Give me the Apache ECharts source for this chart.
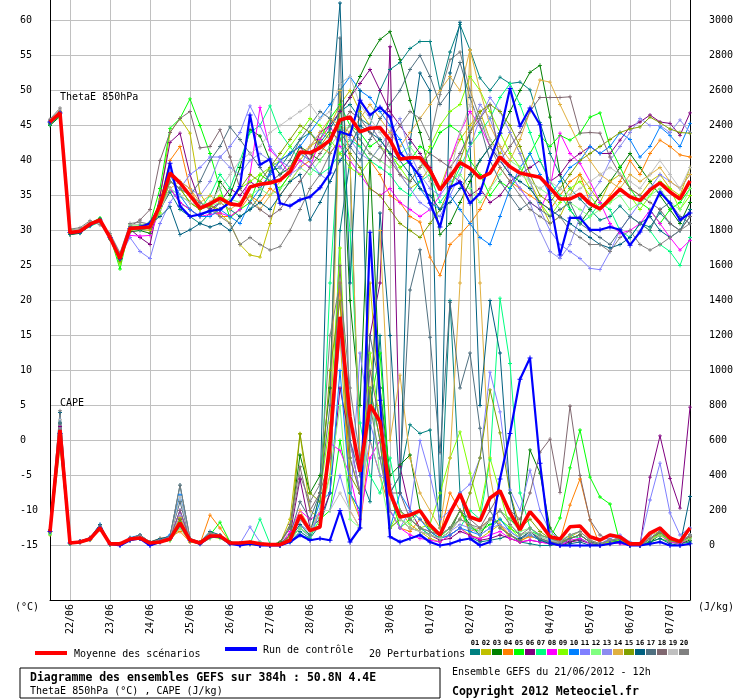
<!DOCTYPE html>
<html><head><meta charset="utf-8">
<script src="https://cdn.jsdelivr.net/npm/echarts@6/dist/echarts.min.js"></script>
<style>html,body{margin:0;padding:0;background:#fff}#c{width:740px;height:700px}</style>
</head><body><div id="c"></div>
<script>
// ---------- tick labels ----------
const dates = ['22/06','23/06','24/06','25/06','26/06','27/06','28/06','29/06','30/06','01/07','02/07','03/07','04/07','05/07','06/07','07/07'];
const thetaTicks = [-15,-10,-5,0,5,10,15,20,25,30,35,40,45,50,55,60];
const capeTicks = [0,200,400,600,800,1000,1200,1400,1600,1800,2000,2200,2400,2600,2800,3000];
const memberColors = ['#008080','#c0c000','#008000','#ff8000','#00ff00','#800080','#00ff80','#ff00ff','#80ff00','#0080ff','#8080ff','#80ff80','#8c8cf0','#e0b040','#80a000','#006080','#507080','#806870','#c0c0c0','#808080'];

// ---------- ThetaE 850 hPa (°C), 6-hourly from 21/06 12h ----------
const thetaMean = [45.5,46.8,29.7,29.9,30.9, 31.5,29.0,26.0,30.3,30.4, 30.5,33.6,38.2,36.8,35.0, 33.2,33.8,34.6,33.8,33.6, 36.2,36.6,36.8,37.2,38.4, 41.2,41.1,41.8,42.9,45.8, 46.2,44.1,44.6,44.7,42.9, 40.2,40.4,40.4,38.6,35.8, 37.7,39.7,38.9,37.5,38.2, 40.5,39.1,38.2,37.9,37.6, 36.1,34.5,34.5,35.2,33.8, 33.1,34.5,35.9,34.8,34.3, 35.8,36.8,35.5,34.5,37.1];
const thetaCtrl = [45.5,46.8,29.7,29.8,30.8, 31.5,29.0,26.0,30.3,30.5, 31.0,33.5,39.6,33.5,32.0, 32.3,32.8,33.0,34.0,36.3, 46.5,39.4,40.2,33.9,33.5, 34.4,34.8,36.1,38.2,44.1, 43.6,48.6,46.5,47.6,46.2, 41.1,39.6,37.7,33.9,30.5, 36.2,36.9,33.9,35.3,40.0, 43.9,50.3,44.9,47.5,45.1, 34.4,26.5,31.8,31.8,30.1, 30.1,30.5,30.1,27.9,29.8, 32.5,35.5,33.9,31.5,32.5];
const thetaP01 = [45.3,46.6,29.5,29.8,31.0, 31.6,28.8,26.3,30.1,30.6, 31.2,33.0,35.5,33.0,32.0, 31.0,32.5,34.0,33.0,32.0, 33.0,35.0,38.5,39.0,41.0, 43.0,44.0,42.5,44.5,47.0, 48.0,46.0,45.0,50.0,53.0, 54.0,56.0,57.0,57.0,50.0, 55.5,59.4,55.8,51.8,50.0, 51.9,51.0,51.2,50.1,45.4, 41.0,38.0,36.0,34.5,33.0, 31.5,32.0,33.5,32.0,31.0, 30.5,32.5,31.0,30.0,33.0];
const thetaP02 = [45.8,47.1,30.1,30.2,31.2, 31.2,29.3,25.5,30.6,30.2, 30.0,34.5,44.0,46.0,43.9, 35.3,33.0,32.5,31.0,28.0, 26.5,26.2,31.0,36.0,38.0, 40.0,42.0,43.0,45.0,48.0, 50.0,47.0,45.0,43.0,41.0, 38.0,36.0,37.0,39.0,36.0, 40.0,43.0,45.0,47.0,43.0, 41.0,44.0,41.0,37.0,34.0, 31.0,32.0,35.0,38.0,36.0, 34.0,37.0,38.0,36.0,35.0, 37.0,38.0,36.0,35.0,39.0];
const thetaP03 = [45.0,46.3,29.4,29.6,30.7, 31.7,28.9,25.8,29.8,30.0, 29.6,33.0,36.0,34.0,33.0, 32.0,33.0,37.0,35.0,39.0, 44.4,43.5,40.0,38.0,39.0, 42.0,41.0,40.0,42.0,47.0, 49.0,52.0,55.0,57.3,58.4, 54.4,48.6,44.0,38.0,29.4, 31.0,34.0,37.0,40.0,42.0, 44.0,47.0,50.0,52.6,53.6, 46.2,38.0,33.0,31.0,33.0, 35.0,37.0,39.0,41.0,39.0, 37.0,35.0,33.0,31.0,34.0];
const thetaP04 = [45.6,46.9,29.9,30.1,31.1, 31.4,29.1,26.1,30.4,30.4, 30.2,34.0,40.0,42.0,36.0, 33.0,34.0,32.0,32.0,33.0, 35.0,34.0,36.0,35.0,37.0, 39.0,40.0,42.0,41.0,43.0, 44.0,42.0,40.0,38.0,35.0, 34.0,32.0,31.2,26.2,23.6, 28.0,29.4,31.0,33.0,36.0, 39.0,37.0,36.0,35.0,34.0, 33.0,35.0,37.0,38.0,34.0, 33.0,35.0,37.0,40.0,38.0, 41.0,42.9,42.0,40.8,40.5];
const thetaP05 = [45.2,46.4,29.6,30.0,31.0, 31.8,29.2,24.5,30.8,30.8, 31.0,36.0,44.6,46.0,48.8, 45.0,41.0,36.0,31.8,33.0, 34.0,38.0,37.0,36.0,38.0, 41.0,40.0,43.0,46.0,48.0, 45.0,44.0,42.0,43.0,41.0, 39.0,40.0,42.0,41.0,44.0, 45.0,44.0,40.0,38.0,35.0, 37.0,36.0,38.0,41.0,43.6, 42.0,43.6,42.9,43.9,46.2, 46.8,42.0,39.1,36.0,34.0, 33.0,31.0,33.0,34.0,36.0];
const thetaP06 = [45.4,46.7,29.8,29.9,30.9, 31.5,29.0,25.9,30.2,29.0, 28.0,35.0,42.6,43.9,38.0, 34.0,33.0,34.0,36.0,35.0, 37.0,36.0,38.0,40.0,41.0, 42.0,40.0,44.0,45.0,47.0, 49.0,51.0,53.0,50.0,47.0, 45.0,43.0,41.0,39.0,36.0, 38.0,37.0,35.0,36.0,34.0, 35.0,37.0,38.0,39.0,40.0, 37.0,38.0,40.0,41.0,42.0, 41.0,41.0,42.9,44.8,45.5, 46.5,45.5,45.3,43.6,46.8];
const thetaP07 = [45.1,46.5,29.6,29.7,30.6, 31.2,28.7,26.5,30.5,30.6, 30.8,33.0,36.0,35.0,34.0, 33.0,35.0,38.0,36.0,40.0, 44.0,45.0,47.8,44.0,42.0, 40.0,39.0,38.0,39.0,41.0, 43.0,42.0,40.0,39.0,38.0, 36.0,35.0,37.0,38.0,34.0, 36.0,39.0,42.0,44.0,46.0, 49.0,51.0,48.0,44.0,40.0, 37.0,35.0,33.0,31.0,32.0, 34.0,33.0,30.0,29.0,31.0, 30.0,28.0,27.0,25.0,29.0];
const thetaP08 = [45.7,47.0,29.8,30.0,30.9, 31.4,29.1,26.2,29.3,29.2, 29.3,33.0,36.0,34.0,33.0, 32.0,32.3,32.5,32.0,33.0, 38.0,47.6,41.5,40.0,38.0, 40.0,39.0,43.0,45.0,42.0, 40.0,38.0,36.0,35.0,36.0, 34.0,33.0,32.0,33.0,35.0, 40.0,44.0,47.0,45.0,42.0, 40.0,38.0,36.0,34.0,33.0, 36.0,43.9,41.0,39.6,37.0, 34.0,31.0,29.6,30.0,31.0, 32.9,31.0,29.0,27.2,28.6];
const thetaP09 = [45.3,46.6,29.5,29.8,30.8, 31.6,28.9,25.2,30.0,30.3, 30.3,32.5,37.0,36.0,34.0, 33.0,34.0,35.0,34.0,36.0, 37.0,38.0,39.0,40.0,42.0, 44.0,46.0,45.0,43.0,41.0, 39.0,38.0,40.0,42.0,41.0, 39.0,37.0,39.0,42.0,45.0, 47.0,48.0,52.0,50.0,47.0, 44.0,41.0,39.0,36.0,34.0, 32.0,34.0,36.0,37.0,35.0, 33.0,34.0,36.0,35.0,33.0, 35.0,37.0,36.0,33.0,35.0];
const thetaP10 = [45.6,46.9,29.7,30.1,31.0, 31.3,29.1,26.0,30.3,30.1, 30.4,33.8,38.0,35.0,33.0, 32.0,32.0,33.0,32.0,31.0, 34.0,36.0,38.0,40.0,41.0, 42.0,44.0,46.0,48.0,50.0, 52.0,50.0,49.0,47.0,45.0, 43.0,40.0,36.0,34.0,33.0, 35.0,33.0,31.0,29.0,28.0, 32.0,36.0,39.0,41.0,38.0, 35.0,37.0,39.0,40.0,42.0, 41.0,42.0,44.0,43.0,40.5, 42.0,44.8,43.6,42.0,45.3];
const thetaP11 = [45.4,46.8,29.7,29.9,30.9, 31.5,28.9,26.3,29.0,27.0, 26.0,31.0,34.0,36.0,38.0, 39.0,40.5,40.5,42.0,44.0, 47.8,45.0,42.0,40.0,39.0, 41.0,40.0,38.0,37.0,40.0, 42.0,44.0,45.0,43.0,41.0, 38.0,36.0,34.0,33.0,32.0, 35.0,38.0,42.0,46.0,49.0, 47.0,44.0,41.0,37.0,33.0, 30.0,28.0,27.0,26.0,24.6, 24.4,27.0,30.0,32.0,34.0, 36.0,38.0,37.0,36.0,38.0];
const thetaP12 = [45.2,46.6,29.6,29.8,30.8, 31.4,29.0,26.4,30.4,30.5, 30.6,33.5,37.0,36.0,35.0, 34.0,33.5,34.0,34.5,34.0, 35.0,36.0,35.0,36.0,37.0, 39.0,38.0,40.0,42.0,44.0, 45.0,43.0,41.0,40.0,39.0, 41.0,42.0,40.0,38.0,36.0, 37.0,38.0,36.0,34.0,36.0, 38.0,40.0,39.0,37.0,36.0, 35.0,33.0,34.0,33.0,32.0, 33.0,34.0,35.0,33.0,34.0, 35.0,36.0,34.0,33.0,36.0];
const thetaP13 = [45.5,46.8,29.8,30.0,31.0, 31.5,29.0,26.0,30.3,30.4, 30.5,34.0,38.5,37.0,36.0, 35.0,37.0,40.5,39.0,38.0, 40.0,41.0,40.0,39.0,38.0, 39.0,42.0,44.0,43.0,45.0, 43.0,41.0,40.0,42.0,44.0, 46.0,41.0,38.0,36.0,35.0, 37.0,41.0,44.0,48.0,46.0, 42.0,38.0,36.0,34.0,30.0, 27.0,26.0,28.0,32.0,35.0, 37.0,40.0,42.0,44.0,46.0, 45.0,45.0,44.0,45.8,44.0];
const thetaP14 = [45.6,46.9,29.9,30.1,31.0, 31.3,29.2,26.1,30.4,30.5, 30.6,33.0,36.0,37.0,36.0, 34.0,35.0,34.0,33.0,34.0, 35.0,33.0,35.0,37.0,39.0, 41.0,42.0,44.0,46.0,45.0, 44.0,46.0,48.0,46.0,44.0, 42.0,44.0,46.0,48.0,50.0, 52.0,50.0,55.8,50.0,45.0, 42.0,40.0,43.0,47.0,51.5, 51.2,48.0,45.0,42.0,40.0, 38.0,37.0,36.0,38.0,37.0, 38.0,39.0,37.0,36.0,38.0];
const thetaP15 = [45.3,46.7,29.6,29.9,30.8, 31.5,29.0,25.6,30.1,30.2, 30.3,33.0,37.0,36.0,34.0, 33.0,33.5,33.0,34.0,36.0, 38.0,37.0,39.0,41.0,43.0, 45.0,44.0,42.0,44.0,43.0, 41.0,39.0,36.0,35.0,33.0, 31.0,30.0,29.0,31.0,33.0, 36.0,40.0,44.0,47.0,48.0, 47.0,45.0,42.0,38.0,35.0, 34.0,36.0,38.0,40.0,41.0, 42.0,43.0,44.0,44.5,44.8, 46.2,45.4,44.5,44.0,43.9];
const thetaP16 = [45.2,46.5,29.4,29.7,30.7, 31.6,28.8,26.2,30.2,30.6, 31.0,32.0,33.4,29.4,30.1, 31.0,30.5,31.0,30.0,32.0, 33.0,34.0,33.0,35.0,37.0, 38.0,31.5,34.0,37.0,40.0, 42.0,45.0,44.0,43.0,41.0, 40.0,38.0,36.0,35.0,33.0, 34.0,36.0,38.0,40.0,42.0, 40.0,38.0,37.0,36.0,34.0, 33.0,32.0,31.0,30.0,29.0, 28.0,27.5,28.0,29.0,31.0, 32.0,30.0,29.0,30.0,32.0];
const thetaP17 = [45.5,46.9,29.8,30.0,31.0, 31.4,29.0,26.0,30.5,30.4, 30.6,34.0,37.0,36.0,35.0, 37.0,40.0,42.0,44.8,43.0, 41.0,39.0,37.0,38.0,40.0, 43.0,45.0,47.0,46.0,44.0, 42.0,40.0,43.0,46.0,48.0, 50.0,53.0,55.0,52.0,48.0, 50.0,54.0,49.0,45.0,40.0, 37.0,35.0,33.0,34.0,33.0, 32.0,33.0,34.0,31.0,30.0, 29.0,28.0,30.0,32.0,31.0, 30.0,33.0,34.0,32.0,31.0];
const thetaP18 = [45.7,47.0,30.0,30.2,31.1, 31.2,29.3,26.6,30.6,31.5, 33.0,40.0,44.0,46.0,47.0, 41.8,42.0,44.4,40.5,36.0, 34.0,33.0,32.0,33.0,35.0, 37.0,39.0,41.0,43.0,45.0, 47.0,46.0,44.0,42.0,40.0, 38.0,37.0,39.0,41.0,40.0, 39.0,41.0,44.0,46.0,48.0, 40.0,42.0,44.0,47.0,49.0, 49.0,49.0,49.1,43.9,44.0, 43.9,40.5,38.0,36.0,35.0, 34.0,33.0,31.0,30.0,32.0];
const thetaP19 = [45.8,47.3,30.0,30.2,31.2, 31.0,29.4,26.5,30.8,30.9, 30.9,33.0,36.0,35.0,34.0, 33.5,34.0,36.0,38.0,40.0, 41.0,42.0,44.0,45.0,46.0, 47.0,48.0,46.0,47.0,51.0, 52.0,48.0,46.0,44.0,42.0, 40.0,41.0,40.0,37.0,36.0, 38.0,44.0,48.0,46.0,43.0, 40.0,39.0,38.0,37.0,36.0, 37.0,36.0,35.0,36.0,37.0, 38.0,39.0,38.0,37.0,36.0, 38.0,40.0,38.0,36.0,39.0];
const thetaP20 = [45.9,47.5,30.2,30.4,31.4, 30.8,29.6,26.8,31.0,31.2, 30.9,33.5,37.0,36.0,35.0, 34.0,33.0,32.0,31.0,28.0, 29.0,28.0,27.2,27.7,30.0, 33.0,36.0,38.0,41.0,43.0, 45.0,43.0,41.0,40.0,43.0, 45.0,47.0,46.0,43.0,49.4, 54.4,55.5,50.0,46.0,42.0, 39.0,37.0,35.0,33.0,32.0, 31.0,32.0,30.0,29.0,28.0, 28.0,27.0,29.0,30.0,28.0, 27.2,28.0,29.0,30.0,31.0];

// ---------- CAPE (J/kg) ----------
const capeMean = [80,660,14,20,37, 100,9,9,37,43, 14,20,37,129,31, 14,54,54,14,14, 20,10,5,5,30, 174,85,106,587,1307, 736,422,803,707,300, 163,174,199,117,60, 186,294,163,142,271, 313,186,89,193,128, 50,37,107,111,50, 31,60,48,9,9, 71,100,43,22,100];
const capeCtrl = [80,640,14,20,37, 100,9,0,30,40, 0,20,40,120,30, 10,50,50,10,0, 10,0,0,0,20, 60,30,40,30,200, 20,100,1790,830,50, 20,40,60,20,0, 10,30,40,0,20, 380,640,950,1071,470, 14,0,0,0,0, 0,10,20,0,0, 10,20,0,0,10];
const capeP01 = [70,700,10,20,40, 110,10,5,40,50, 10,30,40,200,30, 20,60,50,10,10, 10,5,0,0,20, 80,40,120,300,1800, 2200,400,250,1200,300, 400,690,640,660,100, 1400,300,50,20,30, 40,60,20,10,0, 0,10,20,40,10, 0,20,30,0,0, 10,80,20,10,20];
const capeP02 = [60,560,10,15,30, 90,5,10,30,40, 10,20,30,100,20, 10,40,60,10,5, 5,0,0,10,150, 640,200,150,600,1200, 300,150,1500,800,200, 200,120,80,40,20, 60,100,60,40,80, 120,40,20,60,30, 20,10,50,80,30, 10,30,40,10,0, 60,80,40,10,40];
const capeP03 = [70,620,12,20,35, 95,5,5,35,40, 10,20,30,150,30, 10,60,50,10,5, 10,0,0,20,100, 517,300,400,900,2600, 1400,800,2200,900,400, 460,517,200,80,40, 80,200,120,60,150, 200,150,100,546,414, 100,30,20,40,10, 5,20,30,0,0, 20,60,30,10,30];
const capeP04 = [80,650,15,20,40, 110,10,10,40,50, 20,40,50,80,20, 10,174,100,20,10, 20,0,0,10,60, 150,80,200,400,1500, 200,100,600,400,200, 100,80,150,100,60, 300,200,80,100,150, 120,60,30,50,40, 20,30,231,380,146, 0,10,20,0,0, 30,60,20,10,50];
const capeP05 = [75,600,10,25,40, 100,10,5,40,45, 15,20,40,130,30, 15,60,133,20,10, 10,5,0,0,40, 100,50,150,200,600, 300,200,800,1100,300, 100,150,200,100,50, 100,200,100,80,120, 150,100,60,80,60, 40,157,443,660,391, 277,237,14,0,0, 20,40,20,10,60];
const capeP06 = [85,680,14,20,40, 100,10,5,40,45, 10,25,40,150,30, 10,50,50,10,5, 10,0,0,0,60, 380,100,150,300,900, 600,300,1200,1500,2850, 450,200,100,60,30, 40,80,60,30,40, 60,40,20,30,20, 10,0,20,30,10, 0,10,20,0,0, 391,626,384,214,791];
const capeP07 = [65,590,10,20,35, 90,5,5,30,40, 10,20,30,110,30, 10,50,60,10,10, 10,151,10,0,20, 60,40,200,1500,2400, 1800,700,400,300,500, 200,150,100,60,40, 60,100,200,150,489, 1413,1040,300,100,50, 30,20,60,40,10, 0,20,30,0,0, 40,80,30,20,50];
const capeP08 = [80,640,14,20,35, 100,10,5,35,40, 10,20,40,200,30, 10,60,50,10,5, 10,0,0,0,80, 200,150,180,585,543, 400,150,500,600,200, 100,60,40,30,20, 60,100,50,40,60, 80,40,20,30,20, 10,0,30,40,10, 0,20,10,0,0, 30,60,20,10,40];
const capeP09 = [70,620,10,20,35, 95,5,5,30,40, 10,20,30,120,30, 10,50,40,10,5, 10,0,0,0,30, 100,60,300,700,1700, 500,300,1100,700,100, 200,150,100,120,300, 500,649,414,200,500, 300,100,40,60,30, 20,10,40,60,20, 10,20,30,0,0, 40,60,30,20,40];
const capeP10 = [85,720,15,25,45, 120,10,5,45,60, 15,30,60,290,30, 15,60,60,15,10, 10,0,0,10,40, 150,80,250,300,1000, 300,200,900,600,100, 300,200,150,80,40, 60,100,80,60,100, 150,80,40,60,30, 20,10,40,60,20, 10,30,40,10,0, 40,80,40,20,60];
const capeP11 = [75,630,12,20,35, 100,10,5,35,45, 10,20,35,160,30, 10,50,50,10,10, 106,20,0,0,30, 100,50,200,200,400, 200,1100,700,500,200, 100,200,600,400,150, 200,300,350,500,991, 763,317,200,431,200, 80,30,40,60,20, 10,40,60,20,10, 260,471,186,60,100];
const capeP12 = [70,610,10,20,35, 90,5,5,30,40, 10,20,30,100,25, 10,40,60,10,5, 10,20,0,0,30, 100,60,150,400,800, 150,100,900,400,100, 150,120,200,100,60, 100,150,120,80,150, 200,150,80,100,60, 40,30,60,80,30, 10,30,40,10,0, 30,60,30,20,40];
const capeP13 = [80,660,14,20,40, 100,10,5,40,45, 10,25,40,170,30, 10,55,50,10,10, 10,0,0,0,40, 120,80,200,500,1200, 600,300,600,400,350, 150,100,80,60,40, 80,120,100,60,100, 120,80,40,60,40, 20,20,40,60,20, 10,30,40,10,0, 60,100,50,20,60];
const capeP14 = [80,650,14,25,40, 105,10,10,40,50, 15,30,45,160,40, 20,70,60,15,10, 10,0,0,10,50, 200,100,200,600,2600, 2200,500,800,1800,600, 974,500,300,200,100, 500,1500,2830,1500,400, 100,60,30,80,40, 20,10,40,60,20, 10,30,40,10,0, 40,80,40,20,50];
const capeP15 = [75,640,12,20,35, 100,10,5,35,40, 10,20,40,150,30, 10,60,50,10,5, 10,0,0,0,50, 637,300,250,1000,1400, 400,300,900,600,100, 150,100,80,60,40, 80,150,300,500,889, 643,300,100,150,80, 40,20,40,60,20, 10,30,40,10,0, 40,70,30,20,50];
const capeP16 = [90,760,15,25,40, 120,10,5,40,60, 20,40,50,345,40, 20,80,60,20,10, 10,10,0,0,40, 120,60,300,2400,3100, 1500,2600,600,1900,1200, 300,2300,2700,2600,200, 2700,2990,2300,800,1400, 1100,300,40,80,30, 10,0,10,20,0, 10,30,20,0,0, 20,40,10,0,280];
const capeP17 = [85,700,15,25,40, 110,10,5,40,55, 15,30,50,250,35, 15,60,60,15,10, 10,0,0,10,60, 250,150,300,800,2900, 600,400,1200,900,300, 400,1460,1690,1190,530, 1390,900,1100,670,200, 100,60,30,80,40, 20,10,40,60,20, 10,30,40,10,0, 40,80,40,20,60];
const capeP18 = [80,660,14,20,40, 100,10,5,40,45, 10,25,40,200,30, 10,55,60,10,5, 10,0,0,10,120, 450,200,300,500,1600, 500,300,1000,700,300, 300,150,100,80,60, 100,200,150,100,200, 300,200,150,300,533, 608,303,797,400,146, 60,30,40,10,0, 40,80,40,20,50];
const capeP19 = [80,720,15,25,40, 100,10,5,40,50, 15,25,45,280,35, 10,60,60,10,10, 10,0,0,0,40, 150,80,200,200,300, 200,100,800,700,300, 150,100,80,60,40, 80,150,120,80,150, 200,120,60,80,50, 30,20,60,80,30, 10,30,40,10,0, 50,100,50,20,60];
const capeP20 = [90,770,15,25,45, 110,10,5,40,60, 20,30,50,345,40, 15,70,60,15,10, 10,0,0,10,100, 400,250,350,1200,1500, 900,500,800,500,200, 200,150,100,80,60, 100,150,120,100,150, 200,120,60,100,60, 40,20,60,80,30, 10,30,40,10,0, 40,80,40,20,60];

const thetaMembers = [thetaP01,thetaP02,thetaP03,thetaP04,thetaP05,thetaP06,thetaP07,thetaP08,thetaP09,thetaP10,thetaP11,thetaP12,thetaP13,thetaP14,thetaP15,thetaP16,thetaP17,thetaP18,thetaP19,thetaP20];
const capeMembers = [capeP01,capeP02,capeP03,capeP04,capeP05,capeP06,capeP07,capeP08,capeP09,capeP10,capeP11,capeP12,capeP13,capeP14,capeP15,capeP16,capeP17,capeP18,capeP19,capeP20];

// ---------- build chart ----------
const FONT = '"DejaVu Sans Mono", "Liberation Mono", monospace';
const N = thetaMean.length;
const times = [];
for (let i = 0; i < N; i++) times.push((i >= 2 && (i - 2) % 4 === 0) ? (dates[(i - 2) / 4] || '') : '');
const dayLine = (idx) => idx >= 2 && (idx - 2) % 4 === 0;
const cross = 'path://M0,2H5V3H0Z M2,0H3V5H2Z';

const series = [];
function member(data, axis, color) {
  return { type: 'line', yAxisIndex: axis, data: data, symbol: cross, symbolSize: 4, showAllSymbol: true,
    lineStyle: { width: 1, color: color }, itemStyle: { color: color }, z: 2, silent: true, animation: false };
}
thetaMembers.forEach((d, k) => series.push(member(d, 0, memberColors[k])));
capeMembers.forEach((d, k) => series.push(member(d, 1, memberColors[k])));
[[thetaCtrl, 0], [capeCtrl, 1]].forEach(([d, a]) => series.push({ type: 'line', yAxisIndex: a, data: d, symbol: cross, symbolSize: 5, showAllSymbol: true,
  lineStyle: { width: 2.2, color: '#0000ff' }, itemStyle: { color: '#0000ff' }, z: 3, silent: true, animation: false }));
[[thetaMean, 0], [capeMean, 1]].forEach(([d, a]) => series.push({ type: 'line', yAxisIndex: a, data: d, showSymbol: false,
  lineStyle: { width: 3.6, color: '#ff0000' }, z: 4, silent: true, animation: false }));

const graphics = [
  { type: 'text', x: 60, y: 97, z: 10, style: { text: 'ThetaE 850hPa', font: '10px ' + FONT, fill: '#000', verticalAlign: 'middle' } },
  { type: 'text', x: 60, y: 403, z: 10, style: { text: 'CAPE', font: '10px ' + FONT, fill: '#000', verticalAlign: 'middle' } },
  { type: 'text', x: 15, y: 607, style: { text: '(°C)', font: '10px ' + FONT, fill: '#000', verticalAlign: 'middle' } },
  { type: 'text', x: 698, y: 607, style: { text: '(J/kg)', font: '10px ' + FONT, fill: '#000', verticalAlign: 'middle' } },
  { type: 'rect', shape: { x: 35, y: 651, width: 32, height: 4 }, style: { fill: '#ff0000' } },
  { type: 'text', x: 74, y: 654, style: { text: 'Moyenne des scénarios', font: '10px ' + FONT, fill: '#000', verticalAlign: 'middle' } },
  { type: 'rect', shape: { x: 225, y: 647, width: 32, height: 4 }, style: { fill: '#0000ff' } },
  { type: 'text', x: 263, y: 650, style: { text: 'Run de contrôle', font: '10px ' + FONT, fill: '#000', verticalAlign: 'middle' } },
  { type: 'text', x: 369, y: 654, style: { text: '20 Perturbations', font: '10px ' + FONT, fill: '#000', verticalAlign: 'middle' } },
  { type: 'rect', shape: { x: 20, y: 668, width: 420, height: 30 }, style: { fill: 'none', stroke: '#000', lineWidth: 1 } },
  { type: 'text', x: 30, y: 678, style: { text: 'Diagramme des ensembles GEFS sur 384h : 50.8N 4.4E', font: 'bold 11.5px ' + FONT, fill: '#000', verticalAlign: 'middle' } },
  { type: 'text', x: 30, y: 691, style: { text: 'ThetaE 850hPa (°C) , CAPE (J/kg)', font: '10px ' + FONT, fill: '#000', verticalAlign: 'middle' } },
  { type: 'text', x: 452, y: 672, style: { text: 'Ensemble GEFS du 21/06/2012 - 12h', font: '10px ' + FONT, fill: '#000', verticalAlign: 'middle' } },
  { type: 'text', x: 452, y: 692, style: { text: 'Copyright 2012 Meteociel.fr', font: 'bold 11.5px ' + FONT, fill: '#000', verticalAlign: 'middle' } }
];
memberColors.forEach((c, k) => {
  const x0 = 470 + k * 11;
  graphics.push({ type: 'rect', shape: { x: x0, y: 649, width: 10, height: 6 }, style: { fill: c } });
  graphics.push({ type: 'text', x: x0 + 5, y: 643, style: { text: String(k + 1).padStart(2, '0'), font: 'bold 7px ' + FONT, fill: '#000', align: 'center', verticalAlign: 'middle' } });
});

const option = {
  animation: false,
  backgroundColor: '#ffffff',
  grid: { left: 50, right: 50, top: 0, height: 600, containLabel: false },
  xAxis: {
    type: 'category', data: times, boundaryGap: false,
    axisLine: { show: true, onZero: false, lineStyle: { color: '#000', width: 1 } },
    axisTick: { show: false },
    axisLabel: { interval: 0, rotate: 90, margin: 4, fontFamily: FONT, fontSize: 10, color: '#000' },
    splitLine: { show: true, interval: dayLine, lineStyle: { color: '#c0c0c0', width: 1 } }
  },
  yAxis: [
    { type: 'value', position: 'left', min: -22.7857, max: 62.9286,
      axisLine: { show: true, lineStyle: { color: '#000', width: 1 } },
      axisTick: { show: false, customValues: thetaTicks },
      axisLabel: { customValues: thetaTicks, formatter: (v) => String(v), align: 'left', margin: 30, fontFamily: FONT, fontSize: 10, color: '#000', padding: [4, 0, 0, 0] },
      splitLine: { show: true, lineStyle: { color: '#c0c0c0', width: 1 } } },
    { type: 'value', position: 'right', min: -311.43, max: 3117.14,
      axisLine: { show: true, lineStyle: { color: '#000', width: 1 } },
      axisTick: { show: false, customValues: capeTicks },
      axisLabel: { customValues: capeTicks, formatter: (v) => String(v), align: 'left', margin: 19, fontFamily: FONT, fontSize: 10, color: '#000', padding: [4, 0, 0, 0] },
      splitLine: { show: false } }
  ],
  graphic: graphics,
  series: series
};
const chart = echarts.init(document.getElementById('c'), null, { renderer: 'canvas' });
chart.setOption(option);
</script>
</body></html>
